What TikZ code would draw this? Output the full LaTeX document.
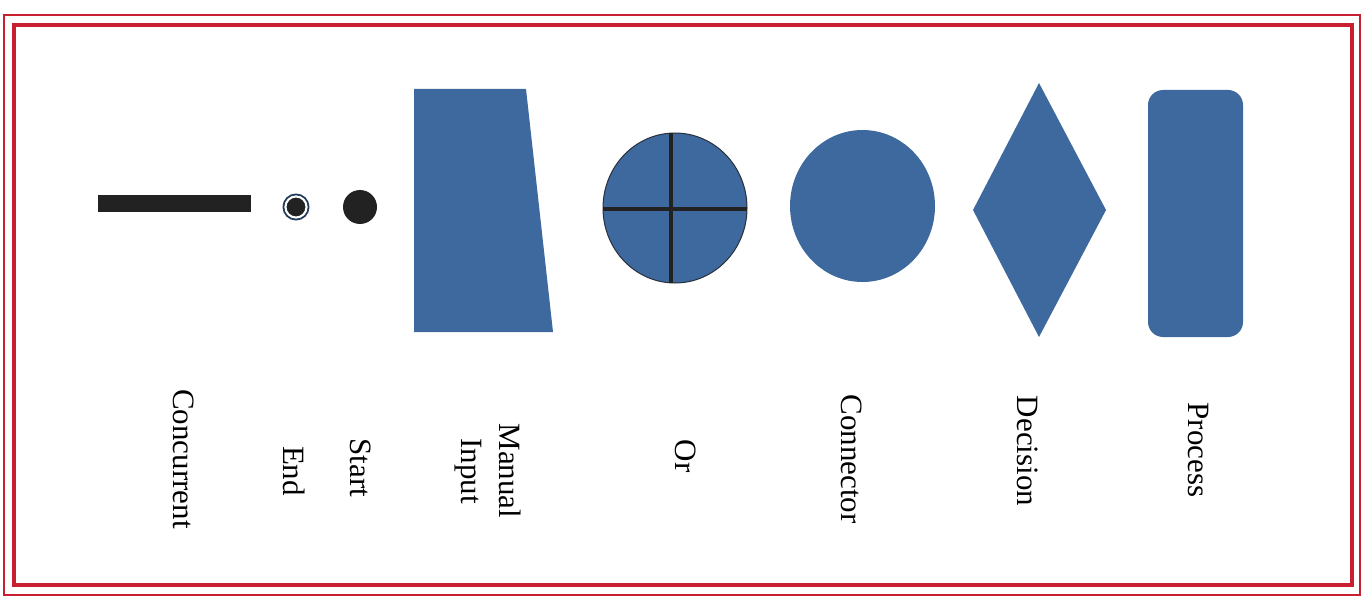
\documentclass[tikz,border=0pt]{standalone}
\usepackage{fontspec}
\setmainfont{Liberation Serif}
\usetikzlibrary{shapes.geometric}
\definecolor{frame}{HTML}{C82030}
\definecolor{shapeblue}{HTML}{3E699E}
\definecolor{ink}{HTML}{222222}
\tikzset{
  shp/.style={fill=shapeblue, draw=none},
  lbl/.style={rotate=-90, font=\fontsize{31}{38}\selectfont, align=center, inner sep=0pt},
  framestyle/.style={draw=frame}
}
\begin{document}
\begin{tikzpicture}[x=1pt,y=-1pt]
\useasboundingbox (0,0) rectangle (1367,599);
% frame
\draw[framestyle, line width=2.5pt] (4,15) rectangle (1360,595);
\draw[framestyle, line width=3.5pt] (14,25) rectangle (1352,585);
% concurrent bar
\fill[ink] (98,195) rectangle (251,212);
% end
\draw[shapeblue!60!black, line width=2pt] (296,207) circle (12.5);
\node[circle, fill=ink, draw=white, line width=2pt, minimum size=21pt, inner sep=0pt] (endc) at (296,207) {};
% start
\node[circle, fill=ink, minimum size=34pt, inner sep=0pt] (startc) at (360,207) {};
% manual input
\fill[shapeblue] (414,89) -- (526,89) -- (553,332) -- (414,332) -- cycle;
% or
\draw[fill=shapeblue, draw=ink!80!shapeblue, line width=1pt] (675,208) ellipse (72 and 75);
\draw[ink, line width=4.5pt] (671,133) -- (671,283);
\draw[ink, line width=4.5pt] (603,209) -- (747,209);
% connector
\fill[shapeblue] (862.5,206) ellipse (72.5 and 76);
% decision
\fill[shapeblue] (1039,83) -- (1106,210) -- (1039,337) -- (973,210) -- cycle;
% process
\fill[shapeblue, rounded corners=15pt] (1148,90) rectangle (1243,337);
% labels
\node[lbl] (lconc) at (184,459) {Concurrent};
\node[lbl] (lend) at (294,471) {End};
\node[lbl] (lstart) at (361,468) {Start};
\node[lbl] (lman) at (488,471) {Manual\\Input};
\node[lbl] (lor) at (686,456) {Or};
\node[lbl] (lconn) at (852,459) {Connector};
\node[lbl] (ldec) at (1028,451) {Decision};
\node[lbl] (lproc) at (1198,450) {Process};
\end{tikzpicture}
\end{document}
